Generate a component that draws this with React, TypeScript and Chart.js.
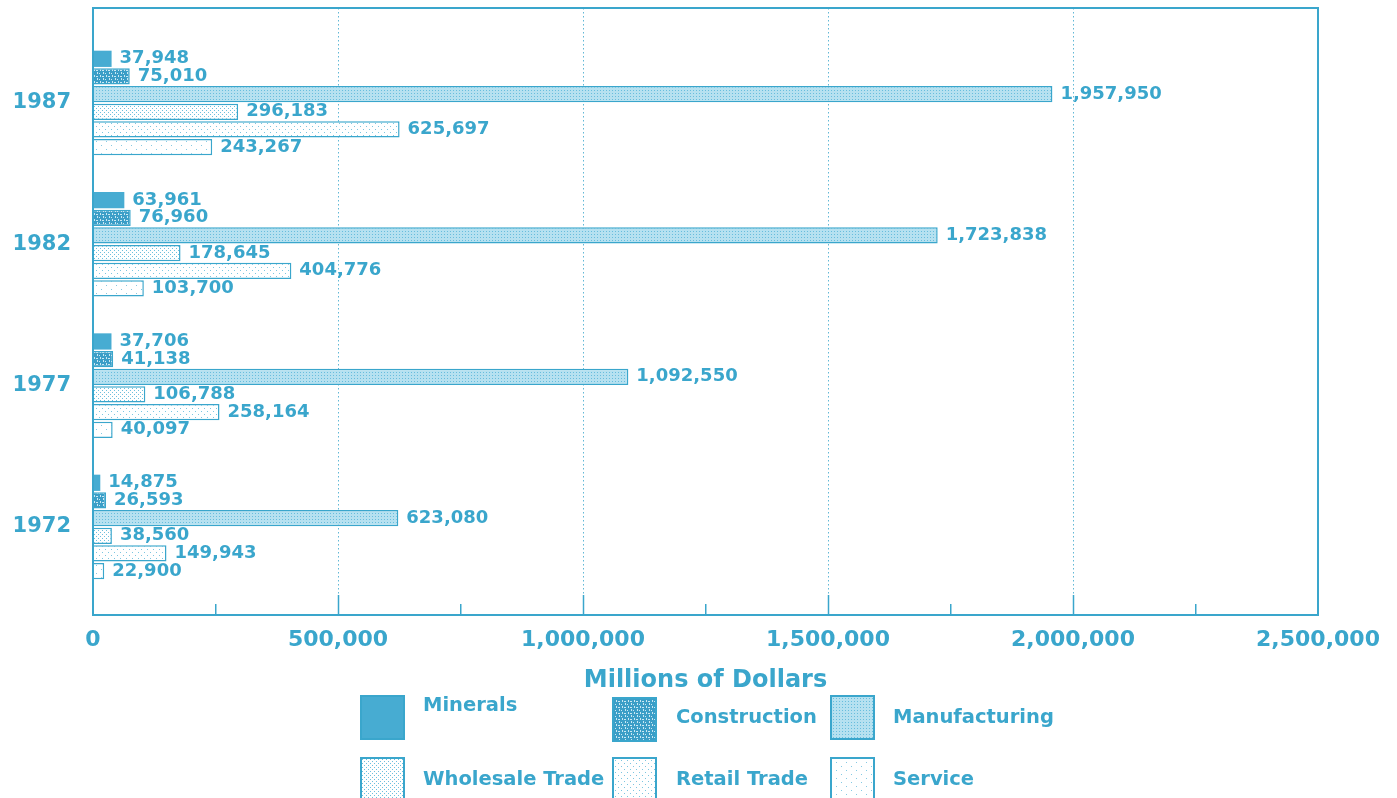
import React, { useEffect, useRef } from 'react';
import { Chart, registerables } from 'chart.js';

Chart.register(...registerables);

// ---------- data ----------
const years = ['1987', '1982', '1977', '1972'];
const seriesNames = ['Minerals', 'Construction', 'Manufacturing', 'Wholesale Trade', 'Retail Trade', 'Service'];
const minerals = [37948, 63961, 37706, 14875];
const construction = [75010, 76960, 41138, 26593];
const manufacturing = [1957950, 1723838, 1092550, 623080];
const wholesale = [296183, 178645, 106788, 38560];
const retail = [625697, 404776, 258164, 149943];
const service = [243267, 103700, 40097, 22900];
const seriesValues = [minerals, construction, manufacturing, wholesale, retail, service];
const xTickValues = [0, 500000, 1000000, 1500000, 2000000, 2500000];
const xTickLabels = ['0', '500,000', '1,000,000', '1,500,000', '2,000,000', '2,500,000'];
const xTitle = 'Millions of Dollars';

// ---------- style ----------
const BLUE = '#3aa6cc';
const GRID = 'rgba(58,166,204,0.8)';
const FONT = "'DejaVu Sans', sans-serif";

function makeFill(kind: number, ctx: CanvasRenderingContext2D): string | CanvasPattern {
  if (kind === 0) return '#47acd2';
  const t = document.createElement('canvas');
  const c = t.getContext('2d') as CanvasRenderingContext2D;
  if (kind === 1) {
    t.width = 6; t.height = 6;
    c.fillStyle = '#3b9ec7'; c.fillRect(0, 0, 6, 6);
    c.fillStyle = '#c9e8f3';
    c.fillRect(1, 0, 1, 2); c.fillRect(4, 3, 1, 2); c.fillRect(0, 4, 2, 1); c.fillRect(3, 1, 1, 1);
  } else if (kind === 2) {
    t.width = 3; t.height = 3;
    c.fillStyle = '#b6e1f0'; c.fillRect(0, 0, 3, 3);
    c.fillStyle = '#68bddd'; c.fillRect(0, 0, 1, 1);
  } else if (kind === 3) {
    t.width = 4; t.height = 4;
    c.fillStyle = '#ffffff'; c.fillRect(0, 0, 4, 4);
    c.fillStyle = '#6cbfdd'; c.fillRect(0, 0, 1, 1); c.fillRect(2, 2, 1, 1);
  } else if (kind === 4) {
    t.width = 6; t.height = 6;
    c.fillStyle = '#ffffff'; c.fillRect(0, 0, 6, 6);
    c.fillStyle = '#7cc6e0'; c.fillRect(0, 0, 1, 1); c.fillRect(3, 3, 1, 1);
  } else {
    t.width = 10; t.height = 8;
    c.fillStyle = '#ffffff'; c.fillRect(0, 0, 10, 8);
    c.fillStyle = '#86cae3'; c.fillRect(1, 1, 1, 1); c.fillRect(6, 5, 1, 1);
  }
  return ctx.createPattern(t, 'repeat') as CanvasPattern;
}

const isMajor = (v: number) => xTickValues.indexOf(v) >= 0;

const framePlugin = {
  id: 'frame',
  afterDraw(chart: any) {
    const { ctx, chartArea: a } = chart;
    ctx.save();
    ctx.strokeStyle = BLUE;
    ctx.lineWidth = 2;
    ctx.strokeRect(a.left, a.top, a.right - a.left, a.bottom - a.top);
    ctx.restore();
  },
};

const valuePlugin = {
  id: 'values',
  afterDatasetsDraw(chart: any) {
    const { ctx } = chart;
    ctx.save();
    ctx.fillStyle = BLUE;
    ctx.font = `bold 18px ${FONT}`;
    ctx.textAlign = 'left';
    ctx.textBaseline = 'middle';
    chart.data.datasets.forEach((_ds: any, s: number) => {
      const meta = chart.getDatasetMeta(s);
      meta.data.forEach((bar: any, j: number) => {
        const v = seriesValues[s][j];
        ctx.fillText(v.toLocaleString('en-US'), bar.x + 8, bar.y);
      });
    });
    ctx.restore();
  },
};

const legendLayout = [
  { bx: 360, by: 695, tx: 423, ty: 705 },
  { bx: 612, by: 697, tx: 676, ty: 717 },
  { bx: 830, by: 695, tx: 893, ty: 717 },
  { bx: 360, by: 757, tx: 423, ty: 779 },
  { bx: 612, by: 757, tx: 676, ty: 779 },
  { bx: 830, by: 757, tx: 893, ty: 779 },
];

export default function App() {
  const canvasRef = useRef<HTMLCanvasElement | null>(null);
  const swatchRefs = useRef<(HTMLCanvasElement | null)[]>([]);

  useEffect(() => {
    const canvas = canvasRef.current;
    if (!canvas) return;
    const ctx = canvas.getContext('2d') as CanvasRenderingContext2D;

    const chart = new Chart(canvas, {
      type: 'bar',
      data: {
        datasets: seriesNames.map((name, s) => ({
          label: name,
          data: seriesValues[s].map((v, i) => ({ x: v, y: i })),
          backgroundColor: makeFill(s, ctx),
          borderColor: BLUE,
          borderWidth: s === 0 ? 0 : 1.5,
          categoryPercentage: 0.75,
          barPercentage: 0.92,
        })) as any,
      },
      options: {
        responsive: false,
        animation: false,
        indexAxis: 'y',
        layout: { padding: { left: 0, top: 8, right: 79, bottom: 98 } },
        plugins: { legend: { display: false }, tooltip: { enabled: false } },
        scales: {
          x: {
            type: 'linear',
            position: 'bottom',
            min: 0,
            max: 2500000,
            afterFit: (s: any) => {
              s.height = 85;
              s.paddingLeft = 0;
              s.paddingRight = 0;
            },
            ticks: {
              stepSize: 250000,
              autoSkip: false,
              maxRotation: 0,
              padding: 32,
              color: BLUE,
              font: { family: FONT, size: 22, weight: 'bold' },
              callback: (v: any) => {
                const k = xTickValues.indexOf(Number(v));
                return k >= 0 ? xTickLabels[k] : '';
              },
            },
            grid: {
              color: (c: any) => {
                const v = c.tick ? c.tick.value : -1;
                if (v === 0 || v === 2500000) return 'rgba(0,0,0,0)';
                return isMajor(v) ? GRID : BLUE;
              },
              lineWidth: (c: any) => (c.tick && isMajor(c.tick.value) ? 1 : 1.5),
              tickLength: -20,
              tickWidth: 1.5,
              tickColor: (c: any) => {
                const v = c.tick ? c.tick.value : -1;
                return isMajor(v) && v !== 0 && v !== 2500000 ? BLUE : 'rgba(0,0,0,0)';
              },
              tickBorderDash: [],
            },
            border: {
              display: true,
              color: BLUE,
              width: 2,
              dash: (c: any) => {
                const v = c.tick ? c.tick.value : -1;
                if (isMajor(v)) return [1.5, 2.5];
                const h = c.chart && c.chart.chartArea ? c.chart.chartArea.bottom - c.chart.chartArea.top : 600;
                return [0, Math.max(h - 11, 1), 11, 0];
              },
            },
            title: {
              display: true,
              text: xTitle,
              color: BLUE,
              font: { family: FONT, size: 24, weight: 'bold' },
              padding: { top: 0, bottom: 5 },
            },
          } as any,
          y: {
            type: 'linear',
            position: 'left',
            reverse: true,
            offset: false,
            min: -0.672,
            max: 3.623,
            afterFit: (s: any) => {
              s.width = 93;
              s.paddingTop = 0;
              s.paddingBottom = 0;
            },
            ticks: {
              stepSize: 1,
              includeBounds: false,
              autoSkip: false,
              padding: 22,
              color: BLUE,
              font: { family: FONT, size: 21, weight: 'bold' },
              callback: (v: any) => {
                const k = Number(v);
                return Number.isInteger(k) && years[k] !== undefined ? years[k] : '';
              },
            },
            grid: { display: false, drawTicks: false, offset: false },
            border: { display: true, color: BLUE, width: 2 },
          } as any,
        },
      },
      plugins: [framePlugin, valuePlugin],
    });

    swatchRefs.current.forEach((sw, s) => {
      if (!sw) return;
      const c = sw.getContext('2d') as CanvasRenderingContext2D;
      c.clearRect(0, 0, sw.width, sw.height);
      c.fillStyle = makeFill(s, c) as any;
      c.fillRect(0, 0, sw.width, sw.height);
      c.strokeStyle = BLUE;
      c.lineWidth = 2;
      c.strokeRect(1, 1, sw.width - 2, sw.height - 2);
    });

    return () => chart.destroy();
  }, []);

  return (
    <div style={{ position: 'fixed', left: 0, top: 0, width: 1397, height: 798, background: '#ffffff', overflow: 'hidden' }}>
      <canvas ref={canvasRef} width={1397} height={798} style={{ position: 'absolute', left: 0, top: 0, width: 1397, height: 798 }} />
      {seriesNames.map((name, s) => {
        const L = legendLayout[s];
        return (
          <React.Fragment key={name}>
            <canvas
              ref={(el) => { swatchRefs.current[s] = el; }}
              width={45}
              height={45}
              style={{ position: 'absolute', left: L.bx, top: L.by, width: 45, height: 45 }}
            />
            <div
              style={{
                position: 'absolute',
                left: L.tx,
                top: L.ty - 13,
                height: 26,
                lineHeight: '26px',
                fontFamily: FONT,
                fontWeight: 'bold',
                fontSize: 19.5,
                color: BLUE,
                whiteSpace: 'nowrap',
              }}
            >
              {name}
            </div>
          </React.Fragment>
        );
      })}
    </div>
  );
}
